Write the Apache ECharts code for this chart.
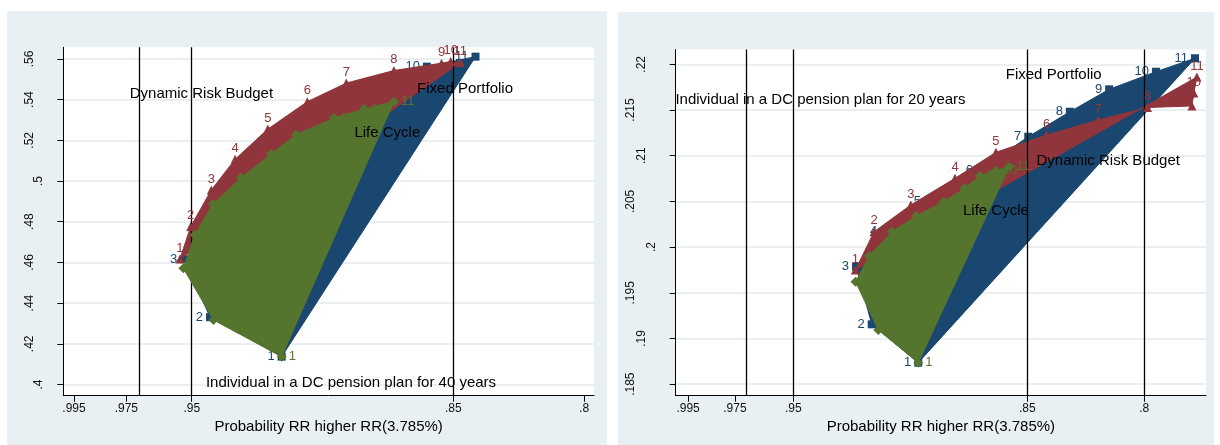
<!DOCTYPE html>
<html>
<head>
<meta charset="utf-8">
<script src="https://cdn.jsdelivr.net/npm/echarts@6/dist/echarts.min.js"></script>
<style>
  html, body { margin: 0; padding: 0; background: #ffffff; width: 1220px; height: 445px; overflow: hidden; }
  .panel { position: absolute; background: #e9f0f3; }
  #p40 { left: 7px; top: 11px; width: 600px; height: 434px; }
  #p20 { left: 618px; top: 12px; width: 596px; height: 433px; }
</style>
</head>
<body>
<div id="p40" class="panel"></div>
<div id="p20" class="panel"></div>
<script>
// Point numbers 1..11 shown next to every marker
const pointLabels = ['1', '2', '3', '4', '5', '6', '7', '8', '9', '10', '11'];

// Axis ticks
const xTicks = [0.995, 0.975, 0.95, 0.85, 0.8];
const yTicks40 = [0.40, 0.42, 0.44, 0.46, 0.48, 0.50, 0.52, 0.54, 0.56];
const yTicks20 = [0.185, 0.19, 0.195, 0.20, 0.205, 0.21, 0.215, 0.22];
const refLines40 = [0.975, 0.95, 0.85];
const refLines20 = [0.975, 0.95, 0.85, 0.8];

// 40-year horizon: probability (x) vs replacement rate (y)
const fixed40X = [0.9156, 0.9430, 0.9529, 0.9420, 0.9330, 0.9220, 0.9080, 0.8930, 0.8760, 0.8601, 0.8415];
const fixed40Y = [0.4137, 0.4331, 0.4616, 0.4720, 0.4880, 0.5020, 0.5160, 0.5310, 0.5460, 0.5562, 0.5611];
const drb40X = [0.9545, 0.9504, 0.9425, 0.9334, 0.9209, 0.9058, 0.8909, 0.8727, 0.8545, 0.8510, 0.8473];
const drb40Y = [0.4617, 0.4776, 0.4956, 0.5107, 0.5255, 0.5390, 0.5481, 0.5543, 0.5579, 0.5587, 0.5582];
const lc40X = [0.9156, 0.9417, 0.9532, 0.9489, 0.9419, 0.9312, 0.9197, 0.9101, 0.8956, 0.8841, 0.8727];
const lc40Y = [0.4137, 0.4317, 0.4571, 0.4735, 0.4887, 0.5015, 0.5133, 0.5227, 0.5309, 0.5354, 0.5389];

// 20-year horizon
const fixed20X = [0.8966, 0.9165, 0.9232, 0.9112, 0.8924, 0.8702, 0.8496, 0.8318, 0.8150, 0.7950, 0.7783];
const fixed20Y = [0.18735, 0.19155, 0.19786, 0.20176, 0.20504, 0.20844, 0.21208, 0.21481, 0.21726, 0.21919, 0.22066];
const drb20X = [0.9235, 0.9155, 0.8998, 0.8809, 0.8634, 0.8417, 0.8197, 0.7986, 0.7796, 0.7788, 0.7775];
const drb20Y = [0.19749, 0.20168, 0.20461, 0.20753, 0.21037, 0.21226, 0.21391, 0.21527, 0.21544, 0.21686, 0.21861];
const lc20X = [0.8966, 0.9137, 0.9234, 0.9176, 0.9078, 0.8974, 0.8858, 0.8768, 0.8701, 0.8635, 0.8577];
const lc20Y = [0.18735, 0.19093, 0.19621, 0.19903, 0.20169, 0.20340, 0.20497, 0.20643, 0.20781, 0.20836, 0.20880];

// Annotations placed in data coordinates
const notes40 = ['Dynamic Risk Budget', 'Fixed Portfolio', 'Life Cycle', 'Individual in a DC pension plan for 40 years'];
const notes40X = [0.9463, 0.8455, 0.8752, 0.8891];
const notes40Y = [0.5428, 0.5453, 0.5236, 0.4008];
const notes20 = ['Fixed Portfolio', 'Individual in a DC pension plan for 20 years', 'Dynamic Risk Budget', 'Life Cycle'];
const notes20X = [0.8387, 0.9384, 0.8154, 0.8634];
const notes20Y = [0.21883, 0.21609, 0.20942, 0.20398];

const xTitle = 'Probability RR higher RR(3.785%)';

const FONT = '"Liberation Sans", Arial, Helvetica, sans-serif';
const NAVY = '#1a476f';
const MAROON = '#90353b';
const GREEN = '#55752f';

// Stata-style number format: drop the leading zero
function stataNum(v) {
  return String(v).replace(/^0\./, '.');
}

// Filled polygon through the 11 points of one strategy
function polygonSeries(xs, ys, color, z) {
  return {
    type: 'custom',
    z: z,
    silent: true,
    data: [[xs[0], ys[0]]],
    renderItem: function (params, api) {
      return {
        type: 'polygon',
        shape: { points: xs.map(function (x, i) { return api.coord([x, ys[i]]); }) },
        style: { fill: color, stroke: color, lineWidth: 1 }
      };
    }
  };
}

// Markers with their point numbers
function markerSeries(xs, ys, color, symbol, size, pos, dist, z) {
  return {
    type: 'scatter',
    z: z,
    silent: true,
    symbol: symbol,
    symbolSize: size,
    itemStyle: { color: color, opacity: 1 },
    data: xs.map(function (x, i) { return [x, ys[i], pointLabels[i]]; }),
    label: {
      show: true,
      position: pos,
      distance: dist,
      formatter: function (p) { return p.data[2]; },
      color: color,
      fontSize: 13,
      fontFamily: FONT
    }
  };
}

// Free text annotations
function noteSeries(texts, xs, ys) {
  return {
    type: 'custom',
    z: 20,
    silent: true,
    data: xs.map(function (x, i) { return [x, ys[i]]; }),
    renderItem: function (params, api) {
      const p = api.coord([api.value(0), api.value(1)]);
      return {
        type: 'text',
        x: p[0],
        y: p[1],
        style: {
          text: texts[params.dataIndex],
          fill: '#000000',
          fontSize: 15,
          fontFamily: FONT,
          align: 'center',
          verticalAlign: 'middle'
        }
      };
    }
  };
}

// Vertical reference lines
function refLineSeries(values) {
  return {
    type: 'line',
    z: 1,
    silent: true,
    data: [],
    markLine: {
      silent: true,
      symbol: ['none', 'none'],
      label: { show: false },
      lineStyle: { color: '#000000', width: 1.3, type: 'solid' },
      emphasis: { disabled: true },
      data: values.map(function (v) { return { xAxis: v }; })
    }
  };
}

function buildOption(cfg) {
  return {
    animation: false,
    grid: {
      left: cfg.grid[0], top: cfg.grid[1], width: cfg.grid[2], height: cfg.grid[3],
      show: true, backgroundColor: '#ffffff', borderWidth: 0
    },
    xAxis: {
      type: 'value',
      inverse: true,
      min: cfg.xMin,
      max: cfg.xMax,
      name: xTitle,
      nameLocation: 'middle',
      nameGap: 20,
      nameTextStyle: { color: '#000000', fontSize: 15, fontFamily: FONT },
      axisLine: { show: true, onZero: false, lineStyle: { color: '#000000', width: 1 } },
      axisTick: { show: true, length: 6, customValues: xTicks, lineStyle: { color: '#000000' } },
      axisLabel: {
        customValues: xTicks,
        margin: 7,
        color: '#111111',
        fontSize: 12,
        fontFamily: FONT,
        formatter: stataNum
      },
      splitLine: { show: false }
    },
    yAxis: {
      type: 'value',
      min: cfg.yMin,
      max: cfg.yMax,
      axisLine: { show: true, onZero: false, lineStyle: { color: '#000000', width: 1 } },
      axisTick: { show: true, length: 6, customValues: cfg.yTicks, lineStyle: { color: '#000000' } },
      axisLabel: {
        customValues: cfg.yTicks,
        rotate: 90,
        margin: 12,
        color: '#111111',
        fontSize: 12,
        fontFamily: FONT,
        formatter: function (v) {
          const s = stataNum(v);
          return '{l' + s.length + '|' + s + '}';
        },
        rich: {
          l2: { fontSize: 12, fontFamily: FONT, color: '#111111', lineHeight: 13, padding: [0, 0, 12, 0] },
          l3: { fontSize: 12, fontFamily: FONT, color: '#111111', lineHeight: 13, padding: [0, 0, 31, 0] },
          l4: { fontSize: 12, fontFamily: FONT, color: '#111111', lineHeight: 13, padding: [0, 0, 53, 0] }
        }
      },
      splitLine: { show: true, lineStyle: { color: '#e3ebee', width: 1.5 } }
    },
    series: [
      refLineSeries(cfg.refLines),
      polygonSeries(cfg.fx, cfg.fy, NAVY, 2),
      markerSeries(cfg.fx, cfg.fy, NAVY, 'rect', 8, 'left', 3, 3),
      polygonSeries(cfg.dx, cfg.dy, MAROON, 4),
      markerSeries(cfg.dx, cfg.dy, MAROON, 'triangle', 9, 'top', 0, 5),
      polygonSeries(cfg.lx, cfg.ly, GREEN, 6),
      markerSeries(cfg.lx, cfg.ly, GREEN, 'diamond', 10, 'right', 2, 7),
      noteSeries(cfg.notes, cfg.notesX, cfg.notesY)
    ]
  };
}

const chart40 = echarts.init(document.getElementById('p40'), null, { renderer: 'canvas' });
chart40.setOption(buildOption({
  grid: [56.3, 36.3, 530.7, 348.4],
  xMin: 0.7962, xMax: 0.9991,
  yMin: 0.3945, yMax: 0.5657,
  yTicks: yTicks40,
  refLines: refLines40,
  fx: fixed40X, fy: fixed40Y,
  dx: drb40X, dy: drb40Y,
  lx: lc40X, ly: lc40Y,
  notes: notes40, notesX: notes40X, notesY: notes40Y
}));

const chart20 = echarts.init(document.getElementById('p20'), null, { renderer: 'canvas' });
chart20.setOption(buildOption({
  grid: [57.7, 37.5, 530.3, 346.2],
  xMin: 0.7736, xMax: 1.0003,
  yMin: 0.18374, yMax: 0.22162,
  yTicks: yTicks20,
  refLines: refLines20,
  fx: fixed20X, fy: fixed20Y,
  dx: drb20X, dy: drb20Y,
  lx: lc20X, ly: lc20Y,
  notes: notes20, notesX: notes20X, notesY: notes20Y
}));
</script>
</body>
</html>
